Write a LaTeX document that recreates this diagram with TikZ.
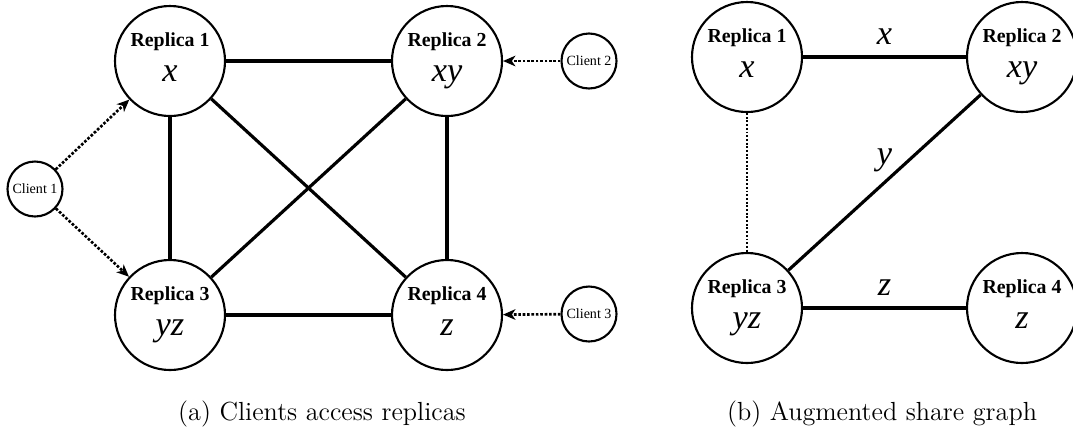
\documentclass[tikz,border=0pt]{standalone}
\usepackage{fontspec}
\newfontfamily\timesfont{Liberation Serif}[BoldFont={Liberation Serif Bold}]
\newfontfamily\timesitalic{Liberation Serif Italic}
\usetikzlibrary{arrows.meta}

\newcommand{\replicatext}[2]{\textbf{Replica #1}\\{\timesitalic\fontsize{19.5}{20}\selectfont #2\vphantom{y}}}

\begin{document}
\begin{tikzpicture}[>={Stealth[length=7pt,width=6pt,inset=2pt]}, semithick]
		\useasboundingbox (0,0) rectangle (21.46,-8.62);
		\tikzstyle{replica}=[draw,circle,line width=1.2pt,minimum size=2.2cm,inner sep=0pt,align=center,font=\timesfont\fontsize{11.3}{20}\selectfont]
		\tikzstyle{client}=[draw,circle,line width=1.2pt,minimum size=1.1cm,inner sep=0pt,font=\timesfont\fontsize{8}{9}\selectfont]
		\tikzstyle{edge}=[line width=1.8pt]
		\tikzstyle{access}=[->,line width=1.5pt,densely dotted]
		\tikzstyle{item}=[inner sep=1pt,font=\timesitalic\fontsize{19.5}{20}\selectfont]
		\tikzstyle{caption}=[font=\fontsize{14.9}{17}\selectfont]

		\draw (3.40,-1.22) node[replica] (R1) {\replicatext{1}{x}};
		\draw (8.94,-1.22) node[replica] (R2) {\replicatext{2}{xy}};
		\draw (3.40,-6.30) node[replica] (R3) {\replicatext{3}{yz}};
		\draw (8.94,-6.30) node[replica] (R4) {\replicatext{4}{z}};
		\draw (0.70,-3.78) node[client] (C1) {Client 1};
		\draw (11.78,-1.22) node[client] (C2) {Client 2};
		\draw (11.78,-6.28) node[client] (C3) {Client 3};

		\draw[edge] (R1) -- (R2);
		\draw[edge] (R1) -- (R3);
		\draw[edge] (R1) -- (R4);
		\draw[edge] (R2) -- (R3);
		\draw[edge] (R2) -- (R4);
		\draw[edge] (R3) -- (R4);
		\draw[access] (C1) -- (R1);
		\draw[access] (C1) -- (R3);
		\draw[access] (C2) -- (R2);
		\draw[access] (C3) -- (R4);

		\draw (14.94,-1.14) node[replica] (S1) {\replicatext{1}{x}};
		\draw (20.44,-1.14) node[replica] (S2) {\replicatext{2}{xy}};
		\draw (14.94,-6.16) node[replica] (S3) {\replicatext{3}{yz}};
		\draw (20.44,-6.16) node[replica] (S4) {\replicatext{4}{z}};

		\draw[edge] (S1) -- node[item, above=5pt] {x} (S2);
		\draw[edge] (S2) -- node[item, above=4pt] {y} (S3);
		\draw[edge] (S3) -- node[item, above=5pt] {z} (S4);
		\draw[line width=1.1pt, densely dotted] (S1) -- (S3);

		\node[caption] (capa) at (6.44,-8.27) {(a) Clients access replicas};
		\node[caption] (capb) at (17.64,-8.27) {(b) Augmented share graph};
	\end{tikzpicture}
\end{document}
